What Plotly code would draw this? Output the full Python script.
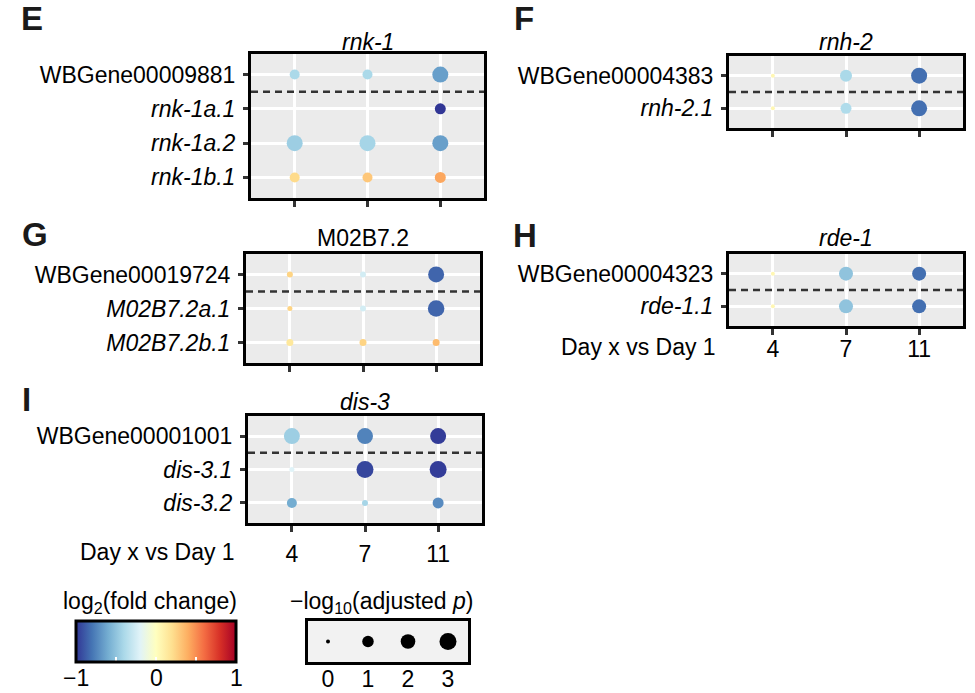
import math
import plotly.graph_objects as go

W, H = 975, 693
FONT = "Liberation Sans, Arial, sans-serif"
FS = 23

# ---------------- data ----------------
DAYS = ["4", "7", "11"]

E_GENES = ["WBGene00009881", "rnk-1a.1", "rnk-1a.2", "rnk-1b.1"]
E_LFC = [[-0.40, -0.40, -0.65], [None, None, -1.00], [-0.45, -0.42, -0.65], [0.22, 0.30, 0.42]]
E_NLP = [[0.64, 0.64, 2.56], [None, None, 0.87], [2.56, 2.56, 2.56], [0.64, 0.64, 0.87]]

F_GENES = ["WBGene00004383", "rnh-2.1"]
F_LFC = [[0.05, -0.40, -0.82], [0.05, -0.38, -0.82]]
F_NLP = [[0.00, 1.14, 2.56], [0.00, 0.87, 2.56]]

G_GENES = ["WBGene00019724", "M02B7.2a.1", "M02B7.2b.1"]
G_LFC = [[0.25, -0.25, -0.85], [0.25, -0.25, -0.85], [0.15, 0.25, 0.35]]
G_NLP = [[0.07, 0.07, 2.56], [0.02, 0.07, 2.80], [0.16, 0.16, 0.16]]

H_GENES = ["WBGene00004323", "rde-1.1"]
H_LFC = [[0.05, -0.50, -0.82], [0.05, -0.50, -0.82]]
H_NLP = [[0.00, 1.78, 1.78], [0.00, 1.78, 1.78]]

I_GENES = ["WBGene00001001", "dis-3.1", "dis-3.2"]
I_LFC = [[-0.45, -0.75, -0.98], [-0.20, -0.95, -0.98], [-0.60, -0.42, -0.72]]
I_NLP = [[2.56, 2.56, 2.56], [0.02, 3.00, 3.00], [0.64, 0.07, 0.87]]

SIZE_BREAKS = [0, 1, 2, 3]
COLOR_BREAKS = [-1, 0, 1]
COLOR_LABELS = ["−1", "0", "1"]


def dot_size(v):
    # ggplot-like area scale: range 4..17 px over 0..3
    return 4 + 13 * math.sqrt(max(v, 0) / 3)


def px_x(p):
    return p / W


def px_y(p):
    return 1 - p / H


panels = [
    dict(letter="E", title="<i>rnk-1</i>", genes=E_GENES, lfc=E_LFC, nlp=E_NLP,
         box=(251, 484, 54, 198), xlab=False, letter_pos=(19, 18), title_y=42),
    dict(letter="F", title="<i>rnh-2</i>", genes=F_GENES, lfc=F_LFC, nlp=F_NLP,
         box=(729, 963, 56, 128), xlab=False, letter_pos=(512, 18), title_y=42),
    dict(letter="G", title="M02B7.2", genes=G_GENES, lfc=G_LFC, nlp=G_NLP,
         box=(246, 480, 254, 363), xlab=False, letter_pos=(20, 234), title_y=238),
    dict(letter="H", title="<i>rde-1</i>", genes=H_GENES, lfc=H_LFC, nlp=H_NLP,
         box=(729, 963, 254, 326), xlab=True, letter_pos=(511, 235), title_y=238),
    dict(letter="I", title="<i>dis-3</i>", genes=I_GENES, lfc=I_LFC, nlp=I_NLP,
         box=(248, 482, 416, 523), xlab=True, letter_pos=(20, 399), title_y=402),
]

fig = go.Figure()
shapes = []
annotations = []
layout_axes = {}

for i, p in enumerate(panels, start=1):
    xa = "x" if i == 1 else f"x{i}"
    ya = "y" if i == 1 else f"y{i}"
    xs, ys, cs, ss = [], [], [], []
    for gi, g in enumerate(p["genes"]):
        for di, d in enumerate(DAYS):
            c = p["lfc"][gi][di]
            s = p["nlp"][gi][di]
            if c is None:
                continue
            xs.append(d)
            ys.append(g)
            cs.append(c)
            ss.append(dot_size(s))
    fig.add_trace(go.Scatter(
        x=xs, y=ys, mode="markers", xaxis=xa, yaxis=ya, showlegend=False,
        marker=dict(color=cs, coloraxis="coloraxis", size=ss, line=dict(width=0), opacity=1),
        hoverinfo="skip"))
    x0, x1, y0, y1 = p["box"]
    n = len(p["genes"])
    ticktext = [g if g.startswith("WBGene") else f"<i>{g}</i>" for g in p["genes"]]
    layout_axes["xaxis" if i == 1 else f"xaxis{i}"] = dict(
        domain=[px_x(x0), px_x(x1)], anchor=ya, type="category",
        categoryorder="array", categoryarray=DAYS, range=[-0.6, 2.6],
        showgrid=True, gridcolor="white", gridwidth=3, zeroline=False,
        showline=True, mirror=True, linecolor="black", linewidth=3,
        ticks="outside", ticklen=6, tickwidth=3, tickcolor="#333333",
        showticklabels=p["xlab"], tickfont=dict(size=FS, color="black", family=FONT),
        ticklabelstandoff=-6 if i == 4 else 2, fixedrange=True)
    layout_axes["yaxis" if i == 1 else f"yaxis{i}"] = dict(
        domain=[px_y(y1), px_y(y0)], anchor=xa, type="category",
        categoryorder="array", categoryarray=p["genes"], range=[n - 0.4, -0.6],
        tickvals=p["genes"], ticktext=ticktext,
        showgrid=True, gridcolor="white", gridwidth=3, zeroline=False,
        showline=True, mirror=True, linecolor="black", linewidth=3,
        ticks="outside", ticklen=5, tickwidth=3, tickcolor="#333333",
        tickfont=dict(size=FS, color="black", family=FONT), ticklabelstandoff=3,
        fixedrange=True)
    shapes.append(dict(type="rect", xref=f"{xa} domain", yref=f"{ya} domain",
                       x0=0, x1=1, y0=0, y1=1, fillcolor="#ebebeb",
                       line=dict(width=0), layer="below"))
    shapes.append(dict(type="line", xref=f"{xa} domain", yref=ya, x0=0, x1=1,
                       y0=0.5, y1=0.5, line=dict(color="#333333", width=2.5, dash="7px,5px"),
                       layer="above"))
    annotations.append(dict(text=p["title"], xref="paper", yref="paper",
                            x=px_x((x0 + x1) / 2), y=px_y(p["title_y"]),
                            xanchor="center", yanchor="middle", showarrow=False,
                            font=dict(size=FS, color="black", family=FONT)))
    lx, ly = p["letter_pos"]
    annotations.append(dict(text=f"<b>{p['letter']}</b>", xref="paper", yref="paper",
                            x=px_x(lx), y=px_y(ly), xanchor="left", yanchor="middle",
                            showarrow=False, font=dict(size=33, color="#1a1a1a", family=FONT)))
    if p["xlab"]:
        ly_lab = 347 if i == 4 else 552
        annotations.append(dict(text="Day x vs Day 1", xref="paper", yref="paper",
                                x=px_x(x0 - 11), y=px_y(ly_lab), xanchor="right",
                                yanchor="middle", showarrow=False,
                                font=dict(size=FS, color="black", family=FONT)))

# ---------------- size legend ----------------
k = len(panels) + 1
fig.add_trace(go.Scatter(
    x=SIZE_BREAKS, y=[0] * len(SIZE_BREAKS), mode="markers",
    xaxis=f"x{k}", yaxis=f"y{k}", showlegend=False, hoverinfo="skip",
    marker=dict(color="#000000", size=[dot_size(v) for v in SIZE_BREAKS],
                line=dict(width=0), opacity=1)))
layout_axes[f"xaxis{k}"] = dict(
    domain=[px_x(308), px_x(468)], anchor=f"y{k}", range=[-0.5, 3.5],
    tickvals=SIZE_BREAKS, ticktext=[str(v) for v in SIZE_BREAKS],
    showgrid=False, zeroline=False, showline=True, mirror=True,
    linecolor="black", linewidth=3, ticks="", ticklabelstandoff=-6,
    tickfont=dict(size=FS, color="black", family=FONT), fixedrange=True)
layout_axes[f"yaxis{k}"] = dict(
    domain=[px_y(662), px_y(621)], anchor=f"x{k}", range=[-1, 1],
    showgrid=False, zeroline=False, showline=True, mirror=True,
    linecolor="black", linewidth=3, showticklabels=False, ticks="", fixedrange=True)
shapes.append(dict(type="rect", xref=f"x{k} domain", yref=f"y{k} domain",
                   x0=0, x1=1, y0=0, y1=1, fillcolor="#f2f2f2",
                   line=dict(width=0), layer="below"))

# ---------------- colour bar labels & top ticks ----------------
CB_X0, CB_X1, CB_TOP, CB_BOT = 76, 236, 621, 662
for v, lab in zip(COLOR_BREAKS, COLOR_LABELS):
    xp = CB_X0 + (v + 1) / 2 * (CB_X1 - CB_X0)
    annotations.append(dict(text=lab, xref="paper", yref="paper", x=px_x(xp), y=px_y(678),
                            xanchor="center", yanchor="middle", showarrow=False,
                            font=dict(size=FS, color="black", family=FONT)))
for v in [-0.5, 0.5]:
    xp = CB_X0 + (v + 1) / 2 * (CB_X1 - CB_X0)
    shapes.append(dict(type="line", xref="paper", yref="paper", x0=px_x(xp), x1=px_x(xp),
                       y0=px_y(CB_TOP + 2), y1=px_y(CB_TOP + 8),
                       line=dict(color="white", width=1.5), layer="above"))

annotations.append(dict(text="log<sub>2</sub>(fold change)", xref="paper", yref="paper",
                        x=px_x(150), y=px_y(602), xanchor="center", yanchor="middle",
                        showarrow=False, font=dict(size=FS, color="black", family=FONT)))
annotations.append(dict(text="−log<sub>10</sub>(adjusted <i>p</i>)", xref="paper", yref="paper",
                        x=px_x(382), y=px_y(602), xanchor="center", yanchor="middle",
                        showarrow=False, font=dict(size=FS, color="black", family=FONT)))

fig.update_layout(
    width=W, height=H, margin=dict(l=0, r=0, t=0, b=0, autoexpand=False),
    paper_bgcolor="white", plot_bgcolor="rgba(0,0,0,0)",
    font=dict(family=FONT, size=FS, color="black"),
    showlegend=False,
    coloraxis=dict(
        colorscale="RdYlBu", reversescale=True, cmin=-1, cmax=1,
        colorbar=dict(
            orientation="h", x=px_x((CB_X0 + CB_X1) / 2), xanchor="center",
            y=px_y(CB_TOP), yanchor="top", len=CB_X1 - CB_X0, lenmode="pixels",
            thickness=CB_BOT - CB_TOP, thicknessmode="pixels",
            outlinewidth=3, outlinecolor="black",
            tickvals=[-0.5, 0, 0.5], showticklabels=False,
            ticks="inside", tickcolor="white", ticklen=6, tickwidth=1.5,
            xpad=0, ypad=0, title=dict(text=""))),
    shapes=shapes, annotations=annotations, **layout_axes)

fig.write_html("out.html", config={"displayModeBar": False},
               post_script="document.body.style.margin='0';document.body.style.overflow='hidden';")
